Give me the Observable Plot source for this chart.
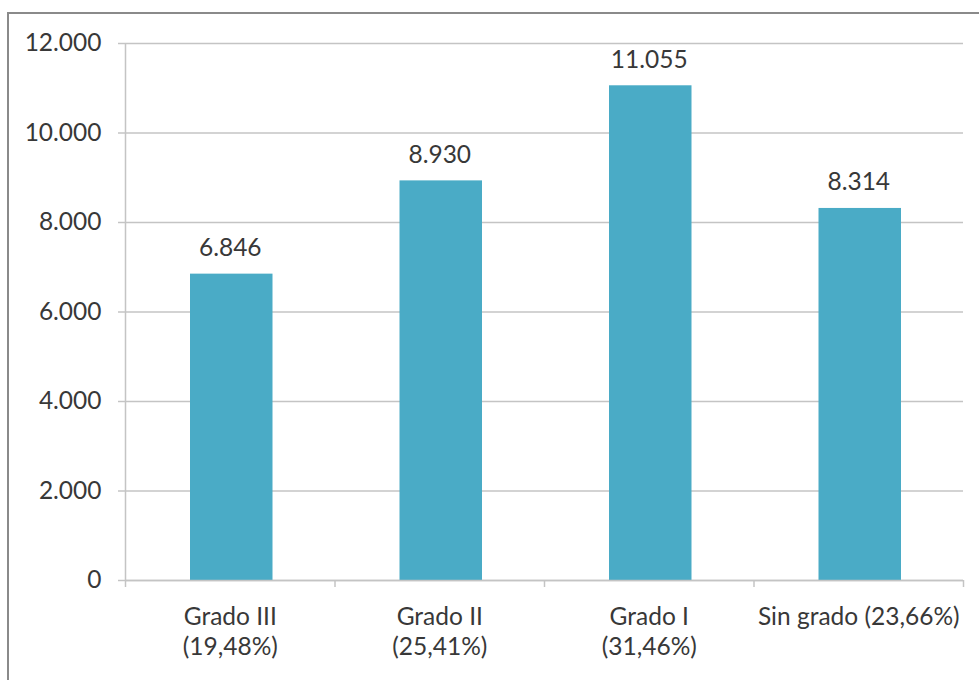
<!DOCTYPE html>
<html>
<head>
<meta charset="utf-8">
<script src="https://cdn.jsdelivr.net/npm/d3@7"></script>
<script src="https://cdn.jsdelivr.net/npm/@observablehq/plot@0.6"></script>
<style>
  html, body { margin: 0; padding: 0; background: #fff; width: 979px; height: 680px; overflow: hidden; }
  #wrap { position: relative; width: 979px; height: 680px; }
  #border { position: absolute; left: 7px; top: 12px; width: 1000px; height: 700px; border: 2px solid #8a8a8a; box-sizing: border-box; pointer-events: none; }
  #chart { position: absolute; left: 0; top: 0; }
</style>
</head>
<body>
<div id="wrap"><div id="chart"></div><div id="border"></div></div>
<script>
const categories = ["Grado III\n(19,48%)", "Grado II\n(25,41%)", "Grado I\n(31,46%)", "Sin grado (23,66%)"];
const values = [6846, 8930, 11055, 8314];
const yTicks = [0, 2000, 4000, 6000, 8000, 10000, 12000];

const loc = d3.formatLocale({decimal: ",", thousands: ".", grouping: [3], currency: ["", "€"]});
const fmt = loc.format(",d");

const data = categories.map((c, i) => ({cat: c, i, value: values[i]}));
const textColor = "#383838";
const gridColor = "#c4c4c4";
const fs = 24.5;

const chart = Plot.plot({
  width: 979,
  height: 680,
  marginLeft: 125,
  marginRight: 16,
  marginTop: 43,
  marginBottom: 100,
  style: {fontFamily: "Lato, 'Open Sans', sans-serif", fontSize: fs + "px", color: textColor, background: "transparent"},
  x: {type: "linear", domain: [0, categories.length]},
  y: {domain: [0, 12000]},
  marks: [
    Plot.gridY(yTicks, {stroke: gridColor, strokeOpacity: 1, strokeWidth: 1.5}),
    Plot.axisY(yTicks, {tickSize: 7, tickPadding: 17, stroke: gridColor, strokeWidth: 1.5, tickFormat: fmt, fill: textColor, label: null, fontSize: fs}),
    Plot.ruleX([0], {stroke: gridColor, strokeWidth: 1.5}),
    Plot.axisX(d3.range(categories.length + 1), {tickSize: 7, stroke: gridColor, strokeWidth: 1.5, tickFormat: () => "", label: null}),
    Plot.rectY(data, {x1: "i", x2: d => d.i + 1, y: "value", fill: "#4aabc6", insetLeft: 65, insetRight: 62}),
    Plot.ruleY([0], {stroke: gridColor, strokeWidth: 1.5}),
    Plot.text(data, {x: d => d.i + 0.5, y: "value", text: d => fmt(d.value), lineAnchor: "bottom", dy: -18, fill: textColor, fontSize: fs}),
    Plot.text(data, {x: d => d.i + 0.5, y: 0, text: "cat", lineAnchor: "top", dy: 23, lineHeight: 1.22, fill: textColor, fontSize: fs})
  ]
});
document.getElementById("chart").appendChild(chart);
</script>
</body>
</html>
